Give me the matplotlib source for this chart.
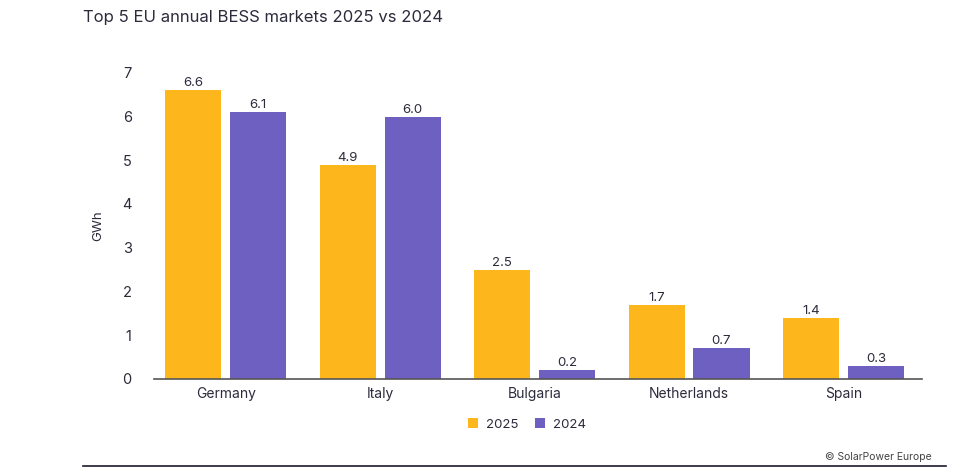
import numpy as np
import matplotlib
matplotlib.use("Agg")
import matplotlib.pyplot as plt
from matplotlib.lines import Line2D

plt.rcParams['font.family'] = ['Inter', 'DejaVu Sans']

# ---- data ----
paises = ['Germany', 'Italy', 'Bulgaria', 'Netherlands', 'Spain']
valores_2025 = [6.6, 4.9, 2.5, 1.7, 1.4]
valores_2024 = [6.1, 6.0, 0.2, 0.7, 0.3]
rotulos_y = ['0', '1', '2', '3', '4', '5', '6', '7']

cor_2025 = '#FDB71C'
cor_2024 = '#6E60C1'
cor_texto = '#2B2B3C'

fig = plt.figure(figsize=(9.74, 4.73), dpi=100)
ax = fig.add_axes([0.158, 0.199, 0.7885, 0.647])

x = np.arange(len(paises))
largura = 0.363
b1 = ax.bar(x - 0.21, valores_2025, largura, color=cor_2025, label='2025')
b2 = ax.bar(x + 0.21, valores_2024, largura, color=cor_2024, label='2024')

for barras, vals in [(b1, valores_2025), (b2, valores_2024)]:
    for b, v in zip(barras, vals):
        ax.text(b.get_x() + b.get_width() / 2, v + 0.02, f'{v:.1f}',
                ha='center', va='bottom', fontsize=9.5, color=cor_texto)

ax.set_xlim(-0.466, 4.508)
ax.set_ylim(0, 7)
ax.set_yticks(range(8))
ax.set_yticklabels(rotulos_y)
ax.set_xticks(x)
ax.set_xticklabels(paises)
ax.tick_params(axis='y', length=0, pad=16, labelsize=10.5, colors=cor_texto)
ax.tick_params(axis='x', length=0, pad=6, labelsize=10, colors=cor_texto)

for lado in ['top', 'right', 'left']:
    ax.spines[lado].set_visible(False)
ax.spines['bottom'].set_color('#555555')
ax.spines['bottom'].set_linewidth(1.2)

ax.set_ylabel('GWh', fontsize=9.5, color=cor_texto, labelpad=13)

fig.text(0.085, 0.962, 'Top 5 EU annual BESS markets 2025 vs 2024',
         fontsize=12, color=cor_texto, va='center', ha='left')

ax.legend(loc='upper center', bbox_to_anchor=(0.486, -0.09), ncol=2,
          frameon=False, fontsize=9.5, handlelength=0.75, handleheight=0.75,
          columnspacing=1.3, handletextpad=0.6, labelcolor=cor_texto)

fig.text(0.957, 0.034, '© SolarPower Europe', fontsize=7.5, color='#444444',
         ha='right', va='center')
fig.add_artist(Line2D([0.085, 0.971], [0.015, 0.015], color='#1a1a2e', lw=1.2,
                      transform=fig.transFigure))

fig.savefig('out.png', dpi=100)
